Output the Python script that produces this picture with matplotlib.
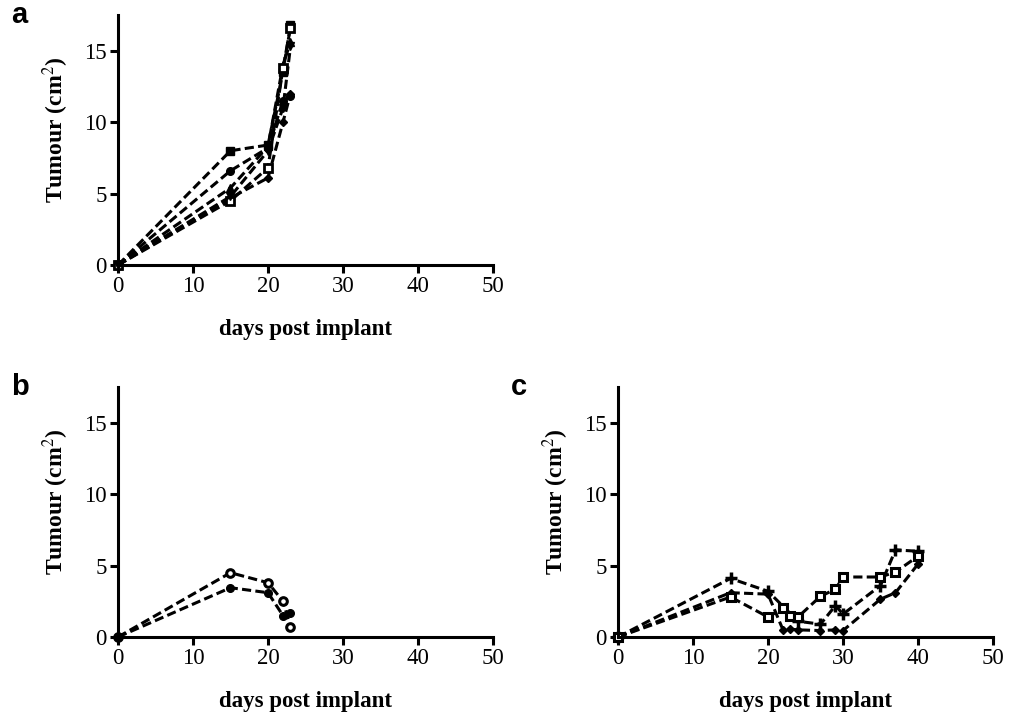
import matplotlib.pyplot as plt

# panel a: untreated tumours
days_a = [0, 15, 20, 22, 23]
a_sq = [0, 8.0, 8.4, 13.5, 16.8]
a_circ = [0, 6.6, 8.2, 11.5, 11.8]
a_tri = [0, 5.4, 8.3, 14.0, 15.6]
a_dia = [0, 4.7, 6.1, 10.0, 12.0]
a_osq = [0, 4.5, 6.8, 13.8, 16.6]
a_tdn = [0, 4.8, 8.0, 11.0, 15.3]

# panel b
days_b = [0, 15, 20, 22, 23]
b_open = [0, 4.5, 3.8, 2.5, 0.7]
b_fill = [0, 3.45, 3.1, 1.5, 1.7]

# panel c
days_c_plus = [0, 15, 20, 24, 27, 29, 30, 35, 37, 40]
c_plus = [0, 4.1, 3.2, 1.1, 0.9, 2.2, 1.6, 3.6, 6.1, 6.0]
days_c_dia = [0, 15, 20, 22, 23, 24, 27, 29, 30, 35, 37, 40]
c_dia = [0, 3.1, 3.0, 0.5, 0.55, 0.5, 0.45, 0.5, 0.45, 2.65, 3.1, 5.1]
days_c_sq = [0, 15, 20, 22, 23, 24, 27, 29, 30, 35, 37, 40]
c_sq = [0, 2.8, 1.4, 2.0, 1.5, 1.4, 2.85, 3.35, 4.2, 4.2, 4.55, 5.65]

serif = ['Liberation Serif', 'DejaVu Serif']
line_kw = dict(color='black', linestyle=(0, (3, 1.4)), linewidth=2.2)


def style_axes(ax, letter):
    ax.set_xlim(0, 50)
    ax.set_ylim(0, 17.5)
    ax.set_xticks([0, 10, 20, 30, 40, 50])
    ax.set_yticks([0, 5, 10, 15])
    for s in ['top', 'right']:
        ax.spines[s].set_visible(False)
    for s in ['left', 'bottom']:
        ax.spines[s].set_linewidth(2.2)
    ax.tick_params(direction='out', length=6, width=2.2, labelsize=16.5, pad=2)
    for lab in ax.get_xticklabels() + ax.get_yticklabels():
        lab.set_family(serif)
    ax.set_xlabel('days post implant', fontsize=16.5, fontweight='bold',
                  family=serif, labelpad=16)
    ax.set_ylabel('Tumour (cm$^2$)', fontsize=17, fontweight='bold',
                  family=serif)
    ax.yaxis.set_label_coords(-0.125, 0.54)
    ax.text(-0.285, 1.0, letter, transform=ax.transAxes, fontsize=21,
            fontweight='bold', family=['Liberation Sans', 'DejaVu Sans'],
            va='center')


plt.rcParams['mathtext.fontset'] = 'stix'

fig = plt.figure(figsize=(10.2, 7.13), dpi=100)
ax_a = fig.add_axes([0.1157, 0.6283, 0.3676, 0.3506])
ax_b = fig.add_axes([0.1157, 0.1066, 0.3676, 0.3506])
ax_c = fig.add_axes([0.6059, 0.1066, 0.3676, 0.3506])

ms = 5.5
ax_a.plot(days_a, a_sq, marker='s', ms=ms, **line_kw)
ax_a.plot(days_a, a_circ, marker='o', ms=ms, **line_kw)
ax_a.plot(days_a, a_tri, marker='^', ms=ms, **line_kw)
ax_a.plot(days_a, a_dia, marker='D', ms=ms - 1, **line_kw)
ax_a.plot(days_a, a_osq, marker='s', ms=ms, mfc='white', mew=2, **line_kw)
ax_a.plot(days_a, a_tdn, marker='v', ms=ms, **line_kw)

ax_b.plot(days_b, b_open, marker='o', ms=ms, mfc='white', mew=2.2, **line_kw)
ax_b.plot(days_b, b_fill, marker='o', ms=ms, **line_kw)

ax_c.plot(days_c_plus, c_plus, marker='+', ms=ms + 2.5, mew=2.5, **line_kw)
ax_c.plot(days_c_dia, c_dia, marker='D', ms=ms - 1, **line_kw)
ax_c.plot(days_c_sq, c_sq, marker='s', ms=ms + 0.5, mfc='white', mew=2.2, **line_kw)

for ax in [ax_a, ax_b, ax_c]:
    for ln in ax.get_lines():
        ln.set_clip_on(False)

style_axes(ax_a, 'a')
style_axes(ax_b, 'b')
style_axes(ax_c, 'c')

fig.savefig('out.png', dpi=100)
